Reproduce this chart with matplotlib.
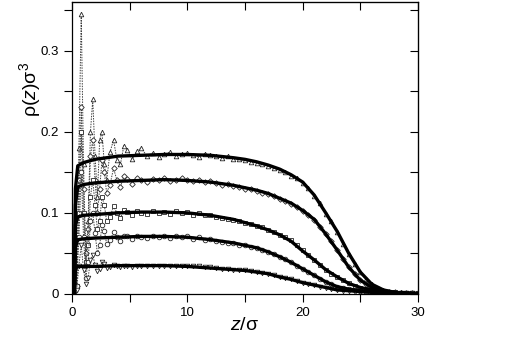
import matplotlib
matplotlib.use("Agg")
import matplotlib.pyplot as plt
from matplotlib.ticker import MultipleLocator

plt.rcParams['font.family'] = ['Liberation Sans', 'DejaVu Sans']
plt.rcParams['mathtext.fontset'] = 'custom'
plt.rcParams['mathtext.rm'] = 'Liberation Sans'
plt.rcParams['mathtext.it'] = 'Liberation Sans:italic'

# smooth (solid) profiles
z_line = [0, 0.2, 0.3, 0.5, 1, 2, 4, 6, 8, 10, 12, 14, 15, 16, 17, 18, 19, 20,
          21, 22, 23, 24, 25, 26, 27, 28, 29, 30]
rho_line_1 = [0, 0, .13, .158, .162, .166, .170, .171, .172, .172, .171, .168, .166, .163,
              .159, .154, .147, .138, .122, .100, .077, .050, .027, .012, .005, .002, .001, .0005]
rho_line_2 = [0, 0, .11, .132, .135, .137, .139, .140, .141, .140, .138, .134, .131, .128,
              .124, .118, .112, .103, .092, .074, .054, .033, .017, .008, .004, .002, .001, .0005]
rho_line_3 = [0, 0, .085, .095, .097, .098, .100, .101, .101, .100, .097, .092, .088, .084,
              .079, .073, .065, .053, .042, .030, .021, .013, .008, .005, .003, .002, .001, .0005]
rho_line_4 = [0, 0, .058, .067, .068, .069, .070, .071, .071, .070, .067, .063, .060, .057,
              .052, .046, .039, .031, .023, .015, .009, .006, .004, .003, .002, .001, .0008, .0005]
rho_line_5 = [0, 0, .031, .034, .034, .034, .035, .035, .035, .034, .032, .030, .029, .027,
              .025, .021, .018, .014, .011, .008, .005, .004, .003, .002, .0015, .001, .0007, .0005]

# simulation points (markers)
z_pts = [0.2, 0.4, 0.6, 0.8, 1.0, 1.2, 1.4, 1.6, 1.8, 2.0, 2.2, 2.4, 2.6, 2.8, 3.0,
         3.3, 3.6, 3.9, 4.2, 4.5, 4.8, 5.2, 5.6, 6.0,
         6.5, 7, 7.5, 8, 8.5, 9, 9.5, 10, 10.5, 11, 11.5, 12, 12.5, 13, 13.5, 14, 14.5,
         15, 15.5, 16, 16.5, 17, 17.5, 18, 18.5, 19, 19.5, 20, 20.5, 21, 21.5, 22, 22.5,
         23, 23.5, 24, 24.5, 25, 25.5, 26, 26.5, 27, 27.5, 28, 28.5, 29, 29.5, 30]
rho_pts_1 = [0.0, 0.01, 0.18, 0.345, 0.16, 0.04, 0.09, 0.20, 0.24, 0.17, 0.12, 0.19, 0.20, 0.16, 0.14,
             0.175, 0.19, 0.165, 0.16, 0.183, 0.178, 0.166, 0.176, 0.180,
             .170, .174, .169, .173, .175, .170, .172, .174, .171, .169, .173, .171, .170, .168, .170, .167, .166,
             .165, .163, .162, .160, .158, .155, .153, .150, .146, .143, .137, .131, .121, .112, .099, .090,
             .077, .062, .049, .037, .027, .018, .012, .008, .005, .003, .002, .002, .001, .001, .001]
rho_pts_2 = [0.0, 0.01, 0.14, 0.23, 0.13, 0.05, 0.08, 0.17, 0.19, 0.14, 0.10, 0.13, 0.165, 0.15, 0.125,
             0.135, 0.155, 0.14, 0.132, 0.145, 0.142, 0.136, 0.143, 0.140,
             .138, .142, .140, .143, .139, .141, .143, .140, .139, .141, .138, .139, .137, .135, .136, .133, .132,
             .130, .129, .127, .125, .123, .121, .117, .115, .111, .107, .102, .097, .091, .083, .074, .065,
             .054, .043, .033, .025, .017, .012, .008, .005, .004, .003, .002, .001, .001, .001, .001]
rho_pts_3 = [0.0, 0.01, 0.10, 0.20, 0.10, 0.04, 0.06, 0.12, 0.14, 0.11, 0.08, 0.09, 0.12, 0.11, 0.09,
             0.095, 0.108, 0.100, 0.094, 0.103, 0.101, 0.097, 0.102, 0.100,
             .099, .102, .100, .101, .099, .102, .100, .101, .098, .100, .097, .098, .095, .094, .093, .091, .090,
             .088, .086, .084, .082, .079, .077, .073, .070, .066, .060, .054, .048, .042, .036, .030, .025,
             .021, .017, .013, .010, .008, .006, .005, .004, .003, .002, .002, .001, .001, .001, .001]
rho_pts_4 = [0.0, 0.01, 0.07, 0.15, 0.07, 0.02, 0.04, 0.09, 0.10, 0.075, 0.05, 0.06, 0.085, 0.078, 0.062,
             0.066, 0.076, 0.070, 0.065, 0.072, 0.071, 0.068, 0.071, 0.070,
             .069, .072, .070, .071, .069, .072, .070, .071, .068, .070, .067, .068, .065, .064, .063, .063, .061,
             .060, .058, .057, .054, .052, .049, .046, .043, .039, .035, .031, .027, .023, .019, .015, .012,
             .009, .007, .006, .005, .004, .003, .003, .002, .002, .002, .001, .001, .001, .001, .001]
rho_pts_5 = [0.0, 0.005, 0.035, 0.06, 0.03, 0.012, 0.02, 0.042, 0.048, 0.036, 0.028, 0.031, 0.040, 0.037, 0.032,
             0.033, 0.036, 0.034, 0.033, 0.035, 0.034, 0.033, 0.035, 0.034,
             .034, .035, .034, .035, .034, .035, .034, .035, .034, .034, .033, .033, .032, .031, .031, .030, .029,
             .029, .028, .027, .026, .025, .023, .021, .020, .018, .016, .014, .012, .011, .009, .008, .006,
             .005, .004, .004, .003, .003, .002, .002, .002, .0015, .001, .001, .001, .001, .0008, .0005]

series = [
    (rho_line_1, rho_pts_1, '^'),
    (rho_line_2, rho_pts_2, 'D'),
    (rho_line_3, rho_pts_3, 's'),
    (rho_line_4, rho_pts_4, 'o'),
    (rho_line_5, rho_pts_5, 'v'),
]

fig = plt.figure(figsize=(5.18, 3.40), dpi=100)
ax = fig.add_axes([72 / 518, 1 - 294 / 340, 346 / 518, 292 / 340])

for rho_line, rho_pts, mk in series:
    ms = 2.8 if mk == 'D' else 3.3
    ax.plot(z_pts, rho_pts, linestyle=(0, (1.5, 1.2)), linewidth=0.7, color='0.25',
            marker=mk, markersize=ms, markerfacecolor='white', markeredgecolor='0.15',
            markeredgewidth=0.6, zorder=2)
    ax.plot(z_line, rho_line, color='black', linewidth=2.4, zorder=3)

ax.set_xlim(0, 30)
ax.set_ylim(0, 0.36)
ax.set_xticks([0, 10, 20, 30])
ax.set_xticklabels(['0', '10', '20', '30'])
ax.set_yticks([0, 0.1, 0.2, 0.3])
ax.set_yticklabels(['0', '0.1', '0.2', '0.3'])
ax.xaxis.set_minor_locator(MultipleLocator(5))
ax.yaxis.set_minor_locator(MultipleLocator(0.05))
ax.tick_params(which='both', direction='out', labelsize=9.5, width=0.8, top=False, right=False)
ax.tick_params(which='major', length=6)
ax.tick_params(which='minor', length=6)
ax.tick_params(axis='x', pad=3)

top = ax.secondary_xaxis('top')
top.set_xticks([0, 10, 20, 30])
top.xaxis.set_minor_locator(MultipleLocator(5))
top.tick_params(which='both', direction='in', length=6, width=0.8, labeltop=False)
right = ax.secondary_yaxis('right')
right.set_yticks([0, 0.1, 0.2, 0.3])
right.yaxis.set_minor_locator(MultipleLocator(0.05))
right.tick_params(which='both', direction='in', length=6, width=0.8, labelright=False)

for sp in ax.spines.values():
    sp.set_linewidth(0.9)

ax.set_xlabel(r'$z/\mathrm{\sigma}$', fontsize=14, labelpad=-1)
ax.set_ylabel(r'$\mathrm{\rho}(z)\mathrm{\sigma}^3$', fontsize=14)
ax.yaxis.set_label_coords(-0.085, 0.7)

fig.savefig('out.png', dpi=100)
